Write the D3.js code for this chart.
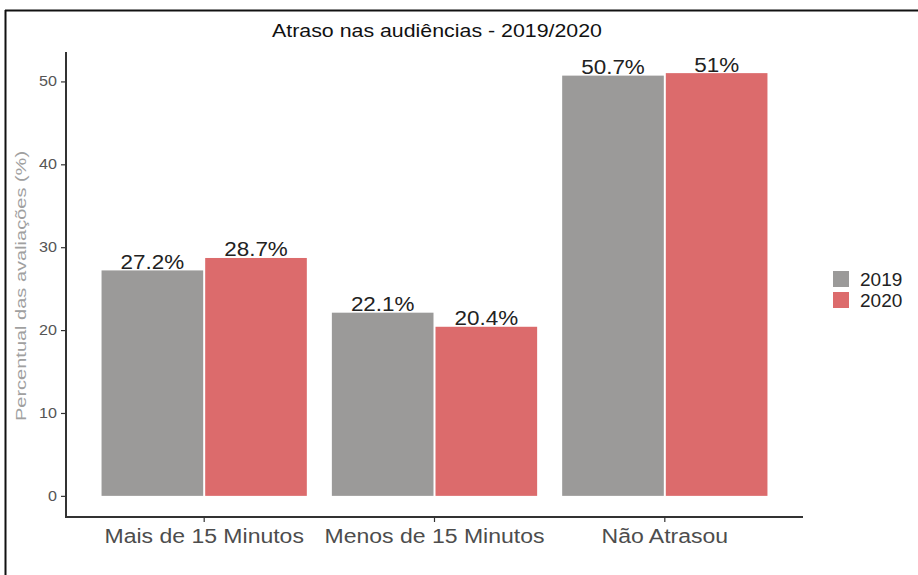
<!DOCTYPE html>
<html>
<head>
<meta charset="utf-8">
<script src="https://cdn.jsdelivr.net/npm/d3@7"></script>
<style>
  body { margin: 0; background: #fff; }
  svg { display: block; font-family: "Liberation Sans", Arial, sans-serif; }
</style>
</head>
<body>
<div id="chart"></div>
<script>
// chart data
var categories = ["Mais de 15 Minutos", "Menos de 15 Minutos", "Não Atrasou"];
var years = ["2019", "2020"];
var values2019 = [27.2, 22.1, 50.7];
var values2020 = [28.7, 20.4, 51];
var labels2019 = ["27.2%", "22.1%", "50.7%"];
var labels2020 = ["28.7%", "20.4%", "51%"];
var yTicks = [0, 10, 20, 30, 40, 50];

var colors = { "2019": "#9b9a99", "2020": "#dc6b6c" };

var W = 918, H = 575;
var panel = { left: 66, right: 803, top: 52, bottom: 517 };

var svg = d3.select("#chart").append("svg")
	.attr("width", W)
	.attr("height", H);

//the source picture is a bit wider than its font, so stretch text sideways
function stretch(sel, k) {
	sel.each(function() {
		var w = this.getComputedTextLength();
		d3.select(this).attr("textLength", w * k).attr("lengthAdjust", "spacingAndGlyphs");
	});
}

// frame (only top and left are visible in the crop)
svg.append("line").attr("x1", 5).attr("x2", W).attr("y1", 10.5).attr("y2", 10.5)
	.attr("stroke", "#111").attr("stroke-width", 2);
svg.append("line").attr("x1", 5.5).attr("x2", 5.5).attr("y1", 10).attr("y2", H)
	.attr("stroke", "#111").attr("stroke-width", 2);

// x positions, ggplot style: 3 categories over 3.2 units
var unit = (panel.right - panel.left) / 3.2;
var x = d3.scalePoint()
	.domain(categories)
	.range([panel.left + 0.6 * unit, panel.right - 0.6 * unit])
	.padding(0);

var ymax = 51;
var y = d3.scaleLinear()
	.domain([-0.05 * ymax, ymax * 1.05])
	.range([panel.bottom, panel.top]);

var x1 = d3.scaleBand().domain(years).range([-0.45 * unit, 0.45 * unit]).padding(0);

var rows = categories.map(function(c, i) {
	return { cat: c, vals: [
		{ year: "2019", v: values2019[i], lab: labels2019[i] },
		{ year: "2020", v: values2020[i], lab: labels2020[i] }
	]};
});

var g = svg.selectAll(".grp").data(rows).enter().append("g")
	.attr("transform", function(d) { return "translate(" + x(d.cat) + ",0)"; });

g.selectAll("rect").data(function(d) { return d.vals; }).enter().append("rect")
	.attr("x", function(d) { return x1(d.year) + 1; })
	.attr("width", x1.bandwidth() - 2)
	.attr("y", function(d) { return y(d.v); })
	.attr("height", function(d) { return y(0) - y(d.v); })
	.attr("fill", function(d) { return colors[d.year]; });

var labs = g.selectAll("text.lab").data(function(d) { return d.vals; }).enter().append("text")
	.attr("class", "lab")
	.attr("x", function(d) { return x1(d.year) + x1.bandwidth() / 2; })
	.attr("y", function(d) { return y(d.v) - 1.5; })
	.attr("text-anchor", "middle")
	.attr("font-size", 19.5)
	.attr("fill", "#222")
	.text(function(d) { return d.lab; });
stretch(labs, 1.15);

// y axis
var yAxis = d3.axisLeft(y).tickValues(yTicks).tickSize(5).tickPadding(4);
var ya = svg.append("g").attr("transform", "translate(" + panel.left + ",0)").call(yAxis);
ya.select(".domain").remove();
ya.selectAll(".tick line").attr("stroke", "#333").attr("stroke-width", 1.2);
ya.selectAll(".tick text").attr("fill", "#555").attr("font-size", 14);
stretch(ya.selectAll(".tick text"), 1.15);

svg.append("line").attr("x1", panel.left).attr("x2", panel.left)
	.attr("y1", panel.top).attr("y2", panel.bottom + 1)
	.attr("stroke", "#333").attr("stroke-width", 2);

// x axis
svg.append("line").attr("x1", panel.left - 1).attr("x2", panel.right)
	.attr("y1", panel.bottom).attr("y2", panel.bottom)
	.attr("stroke", "#333").attr("stroke-width", 2);

var xa = svg.append("g");
xa.selectAll("line").data(categories).enter().append("line")
	.attr("x1", function(d) { return x(d); }).attr("x2", function(d) { return x(d); })
	.attr("y1", panel.bottom).attr("y2", panel.bottom + 5)
	.attr("stroke", "#333").attr("stroke-width", 1.2);
var xl = xa.selectAll("text").data(categories).enter().append("text")
	.attr("x", function(d) { return x(d); }).attr("y", 543)
	.attr("text-anchor", "middle")
	.attr("font-size", 20)
	.attr("fill", "#4d4d4d")
	.text(function(d) { return d; });
stretch(xl, 1.15);

// axis title
var yt = svg.append("text")
	.attr("transform", "translate(26,286) rotate(-90)")
	.attr("text-anchor", "middle")
	.attr("font-size", 15.5)
	.attr("fill", "#a0a0a0")
	.text("Percentual das avaliações (%)");
stretch(yt, 1.29);

// title
var tt = svg.append("text")
	.attr("x", 437).attr("y", 37)
	.attr("text-anchor", "middle")
	.attr("font-size", 17.5)
	.attr("fill", "#111")
	.text("Atraso nas audiências - 2019/2020");
stretch(tt, 1.22);

// legend
var lg = svg.append("g").attr("transform", "translate(833,271)");
years.forEach(function(yr, i) {
	lg.append("rect").attr("x", 0).attr("y", i * 21).attr("width", 16).attr("height", 16)
		.attr("fill", colors[yr]);
	lg.append("text").attr("x", 27).attr("y", i * 21 + 15)
		.attr("font-size", 19).attr("fill", "#222").text(yr);
});
</script>
</body>
</html>
